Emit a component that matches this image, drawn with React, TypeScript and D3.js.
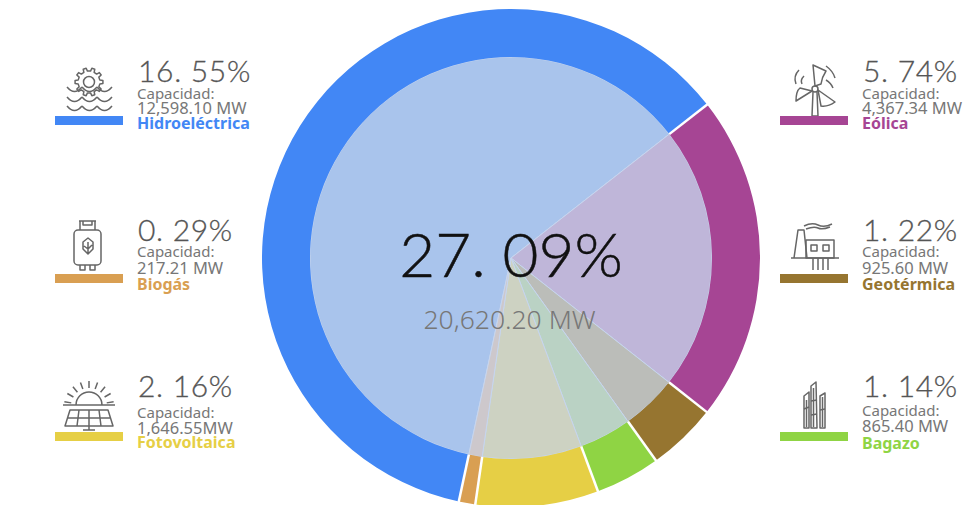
import * as d3 from 'd3';
import React from 'react';

const WIDTH = 973;
const HEIGHT = 505;

// same order as the ring, clockwise starting from the hidro slice
const names = ['Hidroeléctrica', 'Eólica', 'Geotérmica', 'Bagazo', 'Fotovoltaica', 'Biogás'];
const shares = [16.55, 5.74, 1.22, 1.14, 2.16, 0.29];
const capacities = ['12,598.10 MW', '4,367.34 MW', '925.60 MW', '865.40 MW', '1,646.55MW', '217.21 MW'];
const totalShare = 27.09;
const totalCapacity = '20,620.20 MW';

const ringColors = ['#4287f5', '#a64594', '#967530', '#8fd444', '#e6cf45', '#d99f52'];
const innerColors = ['#a9c4ec', '#bfb6d9', '#bbbdb9', '#bad2c4', '#cdd2c2', '#cdc8cc'];

const pctFormat = (v: number) => v.toFixed(2).replace('.', '. ') + '%';

const cx = 511;
const cy = 258;
const outerR = 249;
const innerR = 201;
const startAngle = (192.1 * Math.PI) / 180;

const pie = d3
  .pie<number>()
  .sort(null)
  .startAngle(startAngle)
  .endAngle(startAngle + 2 * Math.PI);
const slices = pie(shares);
const ringArc = d3.arc<d3.PieArcDatum<number>>().innerRadius(innerR).outerRadius(outerR);
const innerArc = d3.arc<d3.PieArcDatum<number>>().innerRadius(0).outerRadius(innerR);

const legend = [
  { i: 0, x: 55, bar: 116, pct: 82, cap: 99, val: 114, name: 129 },
  { i: 5, x: 55, bar: 274, pct: 241, cap: 257, val: 274, name: 290 },
  { i: 4, x: 55, bar: 432, pct: 397, cap: 418, val: 434, name: 448 },
  { i: 1, x: 780, bar: 116, pct: 82, cap: 99, val: 114, name: 129 },
  { i: 2, x: 780, bar: 274, pct: 241, cap: 257, val: 274, name: 290 },
  { i: 3, x: 780, bar: 432, pct: 397, cap: 416, val: 432, name: 449 },
];

const gearPath = () => {
  const pts: string[] = [];
  const teeth = 10;
  for (let t = 0; t < teeth; t++) {
    const a = (t / teeth) * 2 * Math.PI;
    const w = Math.PI / teeth;
    [
      [11, a - w * 0.55],
      [14, a - w * 0.35],
      [14, a + w * 0.35],
      [11, a + w * 0.55],
    ].forEach(([r, b]) => pts.push(`${r * Math.cos(b)},${r * Math.sin(b)}`));
  }
  return 'M' + pts.join('L') + 'Z';
};

const wave = (x: number, y: number) =>
  `M${x},${y}q7.5,9 15,0M${x + 15},${y}q7.5,9 15,0M${x + 30},${y}q7.5,9 15,0`;

function HydroIcon() {
  return (
    <g>
      <g transform="translate(89,82)">
        <path d={gearPath()} />
        <circle r={5.5} />
      </g>
      <path d={wave(67, 87)} />
      <path d={wave(67, 97)} />
      <path d={wave(67, 106)} />
    </g>
  );
}

function GasIcon() {
  return (
    <g>
      <rect x={74} y={230} width={27} height={35} rx={4} />
      <path d="M80,230v-9h15v9M79,221h17M83,221v4h9v-4M80,265v5h5v-5M90,265v5h5v-5" />
      <path d="M88,238l5,4v7l-5,5l-5,-5v-7zM88,242v12M84,246l4,3l4,-4" />
    </g>
  );
}

function SolarIcon() {
  const rays = d3.range(-80, 81, 20).map((a) => {
    const r = (a * Math.PI) / 180;
    return `M${89 + 18 * Math.sin(r)},${406 - 18 * Math.cos(r)}L${89 + 25 * Math.sin(r)},${406 - 25 * Math.cos(r)}`;
  });
  return (
    <g>
      <path d="M76,405a13,13 0 0 1 26,0" />
      <path d={rays.join('')} />
      <path d="M63,405h52" />
      <path d="M70,410h38l5,16h-48zM67,418h44M79,410l-2,16M89,410v16M99,410l2,16" />
      <path d="M89,426v4M83,430h12" />
    </g>
  );
}

function WindIcon() {
  return (
    <g>
      <circle cx={815} cy={89} r={3} />
      <path d="M813,92l-1,24M817,92l1,24M812,116h6" />
      <path d="M815,86l-2,-21l13,6q-4,6 -5,13zM818,90l17,12q-7,5 -14,4zM812,91l-16,10q0,-10 4,-13z" />
      <path d="M796,84q-3,-8 3,-14M802,84q-2,-4 2,-8M833,88q-2,-5 -7,-8M826,66q7,5 9,12" />
    </g>
  );
}

function GeoIcon() {
  return (
    <g>
      <path d="M794,258l4,-28h6l3,28M791,258h13" />
      <rect x={806} y={240} width={28} height={18} />
      <rect x={811} y={245} width={6} height={6} />
      <rect x={823} y={245} width={6} height={6} />
      <path d="M813,258v12M818,258v12M823,258v12M828,258v12M804,258h35" />
      <path d="M804,226q8,-4 14,-1t14,-1M806,229q8,-3 12,-1t12,-1" />
    </g>
  );
}

function CaneIcon() {
  return (
    <g>
      <path d="M804,396l5,-4v36h-5zM806.5,400v27" />
      <path d="M811,386l5,-4l1,46h-6zM813.5,388v39" />
      <path d="M820,396l5,-3v35h-5zM822.5,397v30" />
      <path d="M804,409l5,-2M811,401l6,-1M820,410l5,-1M811,415l6,-1" />
    </g>
  );
}

const sans = '"Noto Sans", sans-serif';
const thin = 'Lato, sans-serif';

export default function App() {
  return (
    <svg
      width={WIDTH}
      height={HEIGHT}
      style={{ position: 'absolute', left: 0, top: 0, background: '#fff' }}
    >
      <g transform={`translate(${cx},${cy})`}>
        {slices.map((d, i) => (
          <path key={i} d={innerArc(d) || ''} fill={innerColors[i]} stroke="#c6d5ee" strokeWidth={1} />
        ))}
        {slices.map((d, i) => (
          <path key={i} d={ringArc(d) || ''} fill={ringColors[i]} />
        ))}
        {slices.map((d, i) => {
          // white gap between ring segments
          const a = d.startAngle - Math.PI / 2;
          return (
            <line
              key={i}
              x1={innerR * Math.cos(a)}
              y1={innerR * Math.sin(a)}
              x2={(outerR + 1) * Math.cos(a)}
              y2={(outerR + 1) * Math.sin(a)}
              stroke="#fff"
              strokeWidth={2.5}
            />
          );
        })}
      </g>
      <text x={511} y={277} textAnchor="middle" fontFamily={thin} fontWeight={300} fontSize={62} fill="#111" stroke="#111" strokeWidth={0.5}>
        {pctFormat(totalShare)}
      </text>
      <text x={509.5} y={329} textAnchor="middle" fontFamily={sans} fontWeight={300} fontSize={26.5} fill="#777">
        {totalCapacity}
      </text>
      <g fill="none" stroke="#666" strokeWidth={1.5} strokeLinejoin="round">
        <HydroIcon />
        <GasIcon />
        <SolarIcon />
        <WindIcon />
        <GeoIcon />
        <CaneIcon />
      </g>
      {legend.map((l) => (
        <g key={l.i}>
          <rect x={l.x} y={l.bar} width={68} height={9} fill={ringColors[l.i]} />
          <text x={l.x + 83} y={l.pct} fontFamily={thin} fontWeight={300} fontSize={30} letterSpacing={0.7} fill="#555" stroke="#555" strokeWidth={0.3}>
            {pctFormat(shares[l.i])}
          </text>
          <text x={l.x + 82} y={l.cap} fontFamily={sans} fontSize={15} fill="#777">
            Capacidad:
          </text>
          <text x={l.x + 82} y={l.val} fontFamily={sans} fontSize={16.5} fill="#777">
            {capacities[l.i]}
          </text>
          <text x={l.x + 82} y={l.name} fontFamily={sans} fontWeight={700} fontSize={16} fill={ringColors[l.i]}>
            {names[l.i]}
          </text>
        </g>
      ))}
    </svg>
  );
}
